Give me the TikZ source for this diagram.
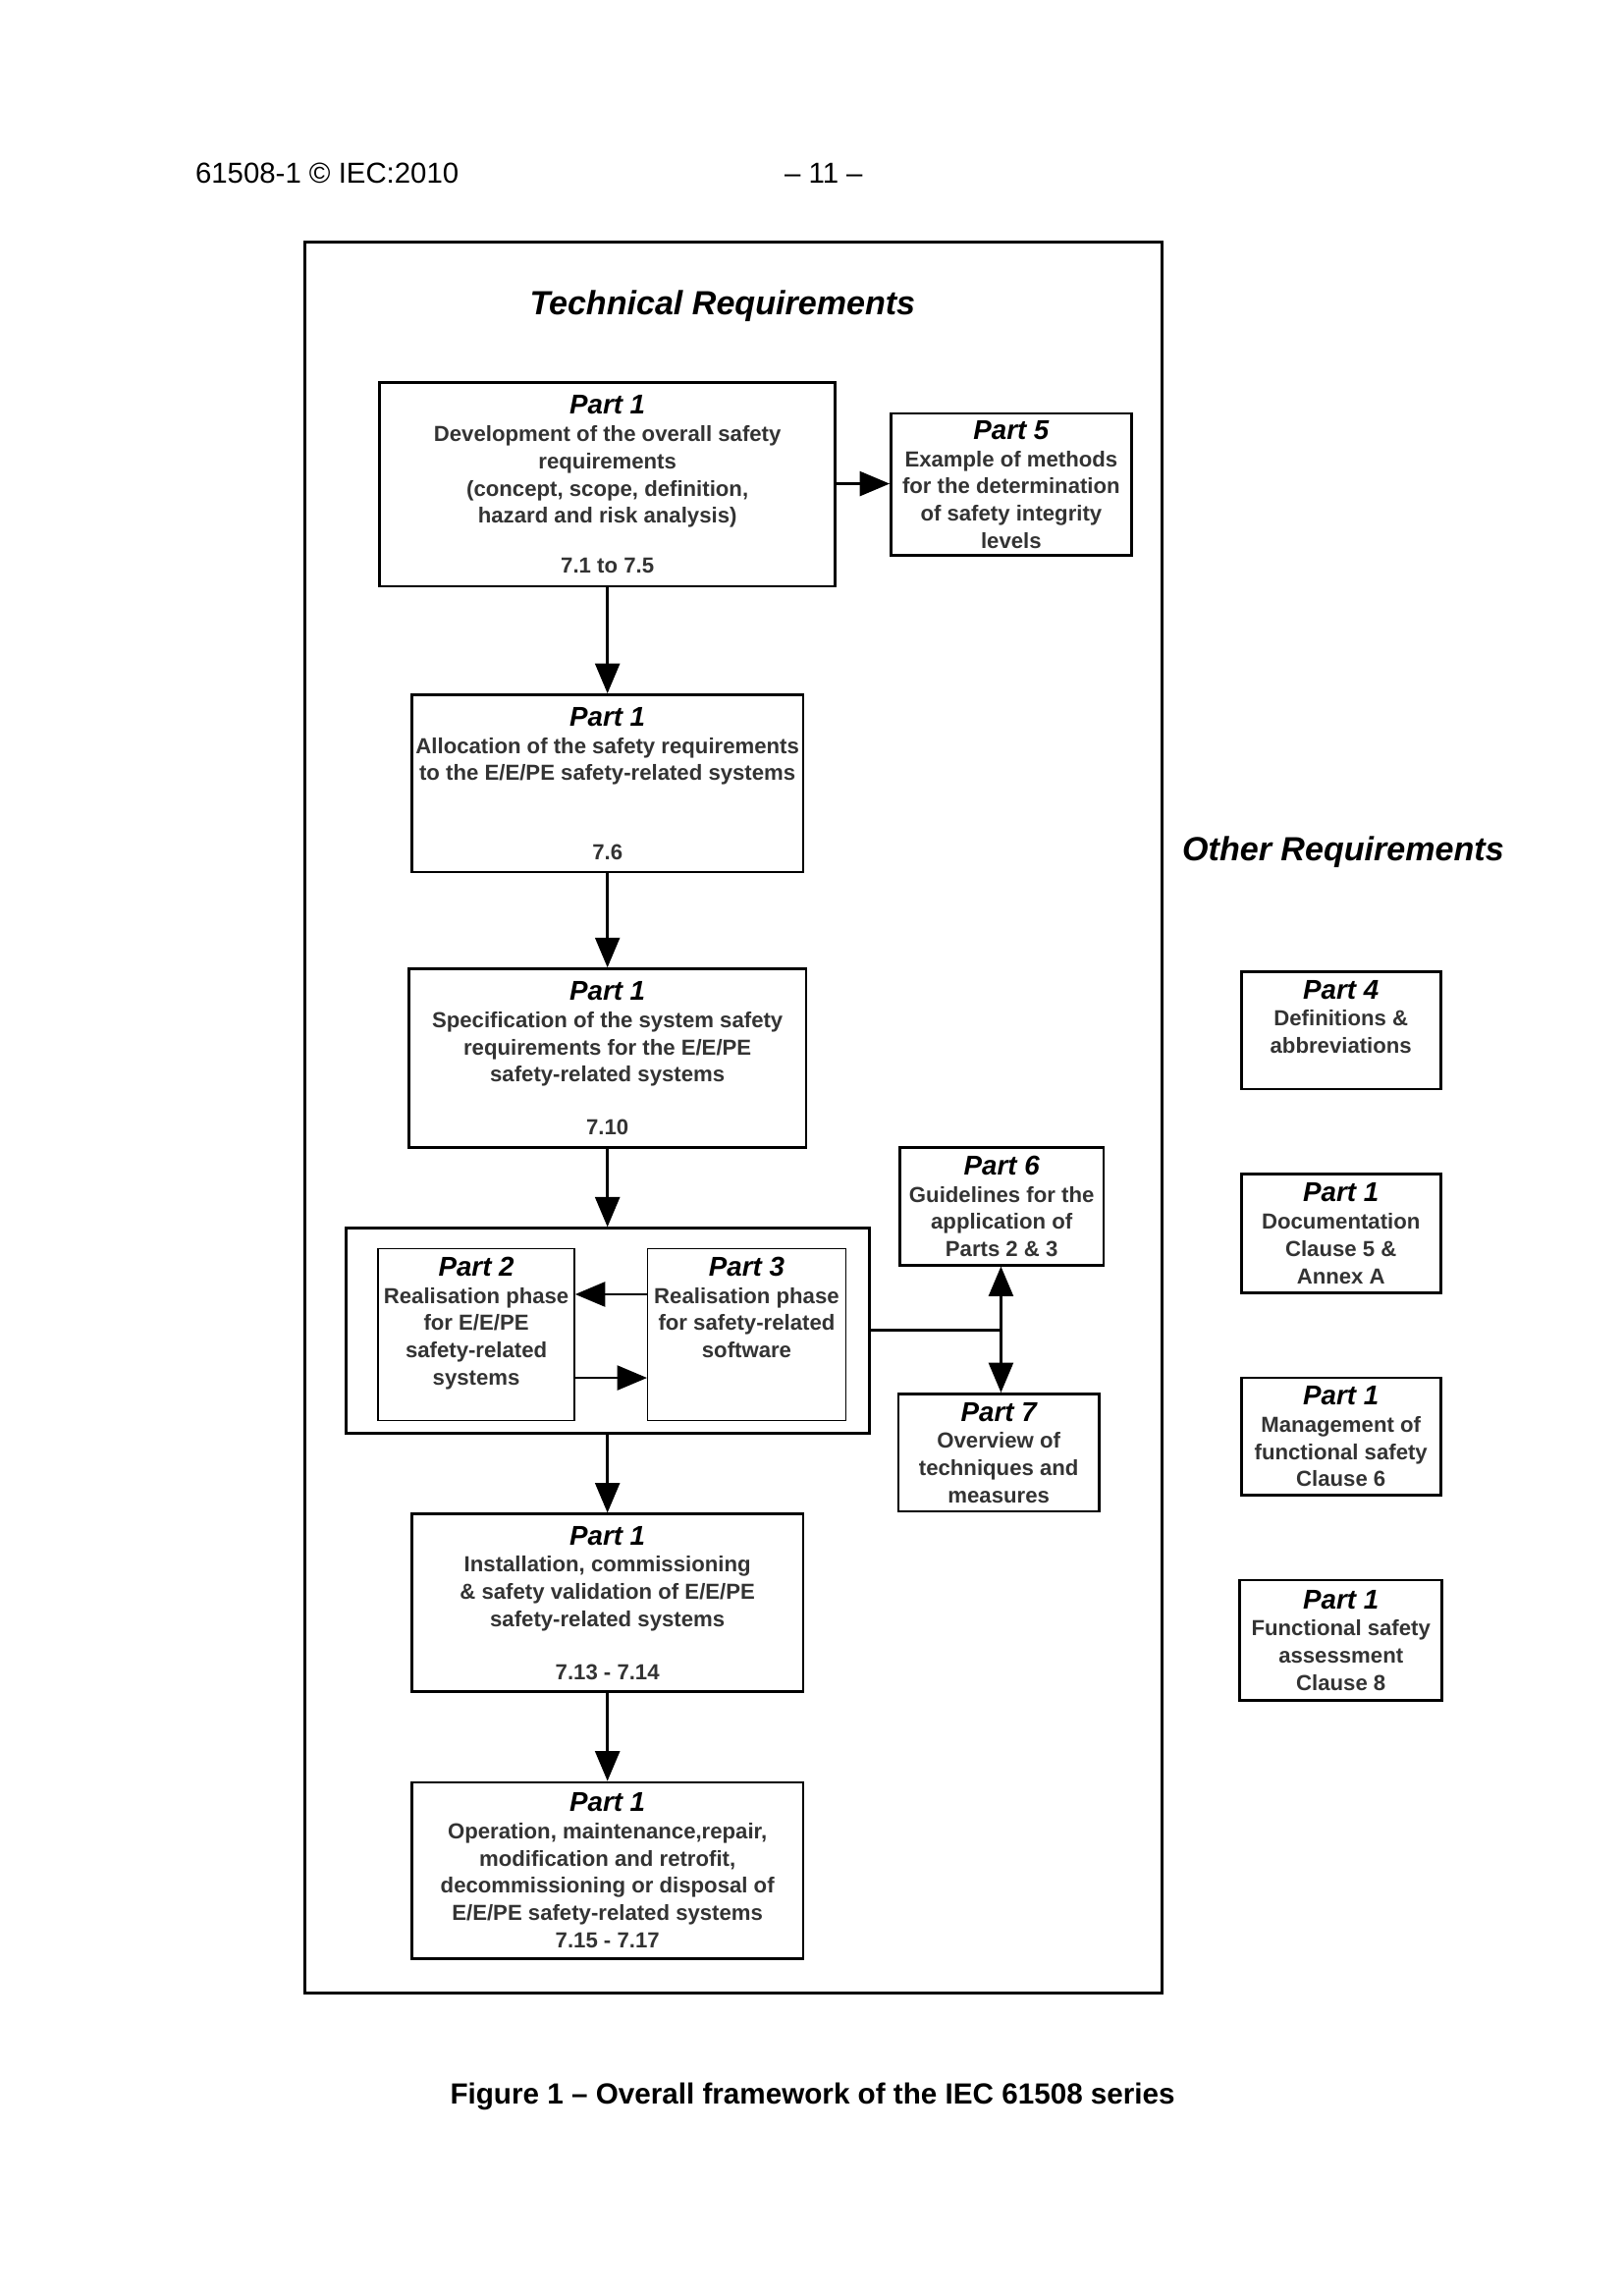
\documentclass[tikz,border=0pt]{standalone}
\usepackage{fontspec}
\setmainfont{Liberation Sans}
\usetikzlibrary{arrows.meta}
\def\un{0.53867bp}
\newcommand\parthead[1]{{\fontsize{10bp}{10bp}\selectfont\bfseries\itshape\color{black}#1}}
\tikzset{
  box/.style={draw, line width=1bp, rectangle, inner sep=0pt, align=center,
    font=\fontsize{8bp}{10bp}\selectfont\bfseries, text=black!80},
  thinbox/.style={box, line width=0.5bp},
  framebox/.style={draw, line width=1.1bp, rectangle, inner sep=0pt},
  heading/.style={font=\fontsize{12.3bp}{14bp}\selectfont\bfseries\itshape, inner sep=0pt},
  arr/.style={line width=1bp, -{Triangle[length=11bp,width=9bp]}},
  plain/.style={line width=1bp},
}
\begin{document}
\begin{tikzpicture}[x=0.53867bp, y=-0.53867bp]
\useasboundingbox[fill=white] (0,0) rectangle (1107.5,1566.4);

% header
\node[anchor=west, inner sep=0pt, font=\fontsize{10.6bp}{12bp}\selectfont] (hdl) at (133,118) {61508-1 © IEC:2010};
\node[inner sep=0pt, font=\fontsize{10.6bp}{12bp}\selectfont] (hdr) at (562,118) {– 11 –};

% frame
\node[framebox, minimum width=585*\un, minimum height=1195*\un] (frame) at (500.5,762.5) {};

\node[heading] (tech) at (493,209) {Technical Requirements};
\node[heading] (other) at (916.5,581) {Other Requirements};

% main column
\node[box, minimum width=311*\un, minimum height=139*\un] (b1) at (414.5,330.5)
 {\parthead{Part 1}\\Development of the overall safety\\requirements\\(concept, scope, definition,\\hazard and risk analysis)\\[8.3bp]7.1 to 7.5};
\node[box, minimum width=164*\un, minimum height=97*\un] (b5) at (690,330.5)
 {\parthead{Part 5}\\Example of methods\\for the determination\\of safety integrity\\levels};
\node[box, minimum width=267*\un, minimum height=121*\un] (b2) at (414.5,534.5)
 {\parthead{Part 1}\\Allocation of the safety requirements\\to the E/E/PE safety-related systems\\[19bp]7.6};
\node[box, minimum width=271*\un, minimum height=122*\un] (b3) at (414.5,722)
 {\parthead{Part 1}\\Specification of the system safety\\requirements for the E/E/PE\\safety-related systems\\[9.4bp]7.10};

\node[box, minimum width=357*\un, minimum height=140*\un] (cont) at (414.5,908) {};
\node[thinbox, minimum width=134*\un, minimum height=117*\un] (p2) at (325,910.5)
 {\parthead{Part 2}\\Realisation phase\\for E/E/PE\\safety-related\\systems\\\mbox{}};
\node[thinbox, minimum width=135*\un, minimum height=117*\un] (p3) at (509.5,910.5)
 {\parthead{Part 3}\\Realisation phase\\for safety-related\\software\\\mbox{}\\\mbox{}};

\node[box, minimum width=139*\un, minimum height=80*\un] (p6) at (683.5,823)
 {\parthead{Part 6}\\Guidelines for the\\application of\\Parts 2 \& 3};
\node[box, minimum width=137*\un, minimum height=80*\un] (p7) at (681.5,991)
 {\parthead{Part 7}\\Overview of\\techniques and\\measures};

\node[box, minimum width=267*\un, minimum height=121*\un] (b6) at (414.5,1093.5)
 {\parthead{Part 1}\\Installation, commissioning\\\& safety validation of E/E/PE\\safety-related systems\\[9.4bp]7.13 - 7.14};
\node[box, minimum width=267*\un, minimum height=120*\un] (b7) at (414.5,1276)
 {\parthead{Part 1}\\Operation, maintenance,repair,\\modification and retrofit,\\decommissioning or disposal of\\E/E/PE safety-related systems\\7.15 - 7.17};

% right column
\node[box, minimum width=136*\un, minimum height=80*\un] (p4) at (915,703)
 {\parthead{Part 4}\\Definitions \&\\abbreviations\\\mbox{}};
\node[box, minimum width=136*\un, minimum height=81*\un] (doc) at (915,841.5)
 {\parthead{Part 1}\\Documentation\\Clause 5 \&\\Annex A};
\node[box, minimum width=136*\un, minimum height=80*\un] (mgmt) at (915,980)
 {\parthead{Part 1}\\Management of\\functional safety\\Clause 6};
\node[box, minimum width=138*\un, minimum height=82*\un] (fsa) at (915,1119)
 {\parthead{Part 1}\\Functional safety\\assessment\\Clause 8};

% connectors
\draw[arr] (b1.east |- 0,330) -- (b5.west |- 0,330);
\draw[arr] (b1) -- (b2);
\draw[arr] (b2) -- (b3);
\draw[arr] (b3) -- (cont);
\draw[arr] (cont) -- (b6);
\draw[arr] (b6) -- (b7);
\draw[arr] (p3.west |- 0,883) -- (p2.east |- 0,883);
\draw[arr] (p2.east |- 0,940) -- (p3.west |- 0,940);
\coordinate (j) at (683,907.5);
\draw[plain] (cont.east |- j) -- (j);
\draw[arr] (j) -- (j |- p6.south);
\draw[arr] (j) -- (j |- p7.north);

% caption
\node[inner sep=0pt, font=\fontsize{10.7bp}{12bp}\selectfont\bfseries] (cap) at (554.5,1430)
 {Figure 1 – Overall framework of the IEC 61508 series};
\end{tikzpicture}
\end{document}
